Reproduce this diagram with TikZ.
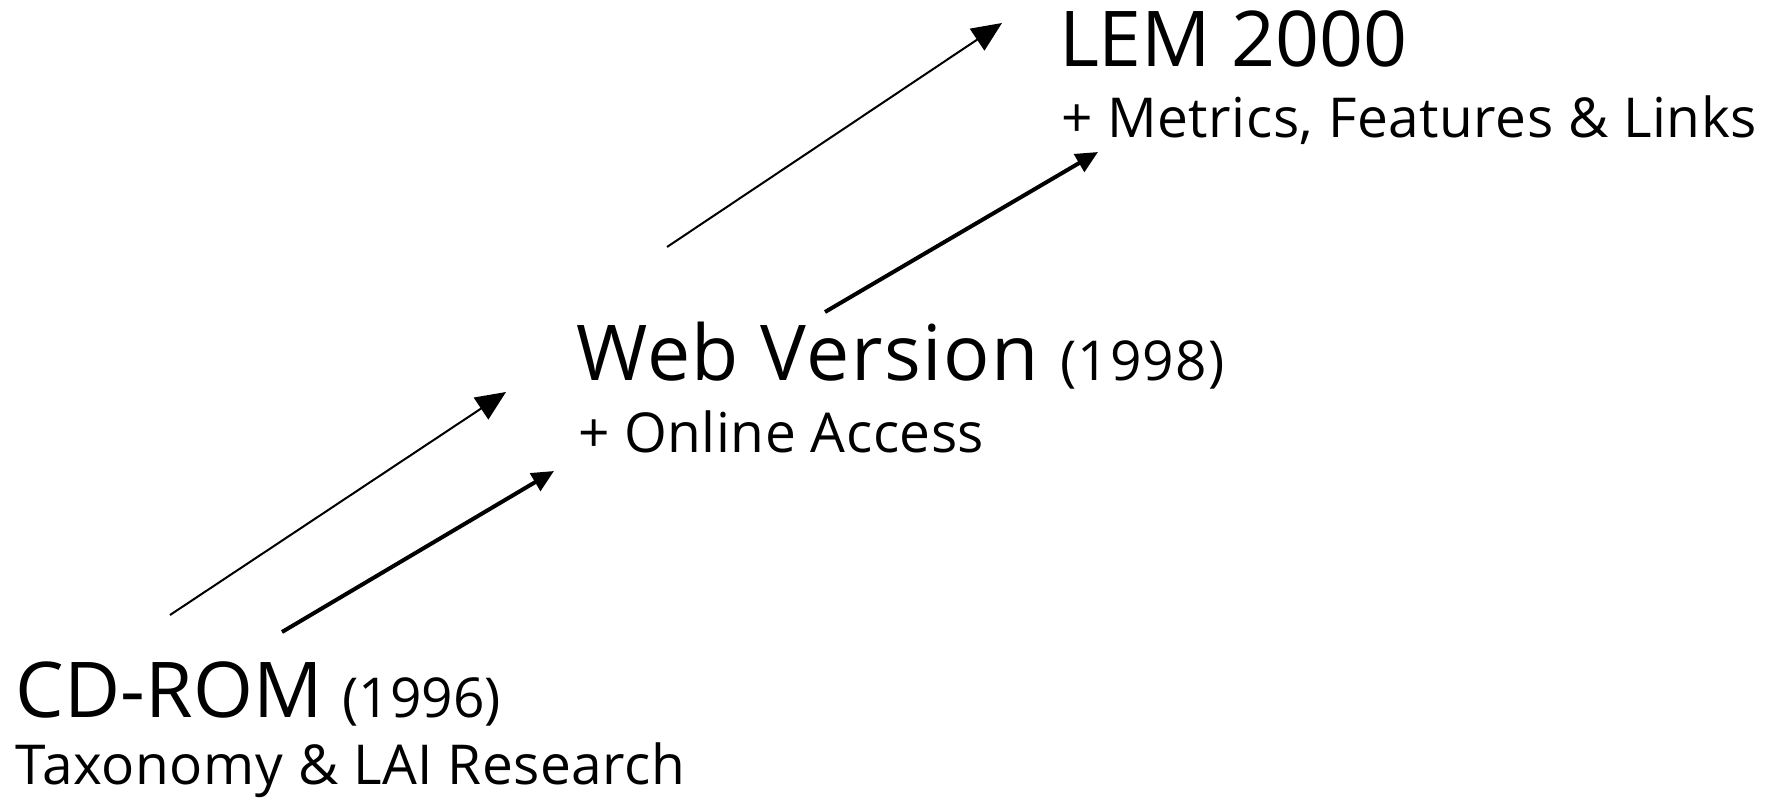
\documentclass[tikz,border=0pt]{standalone}
\usepackage{fontspec}
\setmainfont{Open Sans}
\usetikzlibrary{arrows.meta}
\newcommand\myyearfont{\fontsize{27.5}{30}\selectfont}
\begin{document}
\begin{tikzpicture}[x=0.5pt,y=-0.5pt,
  lbl/.style={anchor=base west, inner sep=0pt, outer sep=0pt},
  bigtext/.style={lbl, font=\fontsize{38.5}{40}\selectfont},
  widebig/.style={lbl, font=\fontsize{38.5}{40}\selectfont\addfontfeatures{LetterSpace=2}},
  subtext/.style={lbl, font=\fontsize{27.5}{30}\selectfont\addfontfeatures{LetterSpace=1}},
  thinarrow/.style={line width=1pt, -{Triangle[length=15pt,width=13pt]}},
  thickarrow/.style={line width=2pt, -{Triangle[length=11pt,width=10pt]}}]
\useasboundingbox (0,0) rectangle (1789,798);

\node[bigtext] (lem) at (1059,66) {LEM 2000};
\node[subtext] (lemsub) at (1061,137) {+ Metrics, Features \& Links};
\node[widebig] (web) at (576,380) {Web Version {\myyearfont (1998)}};
\node[subtext] (websub) at (578,452) {+ Online Access};
\node[bigtext] (cd) at (16,717) {CD-ROM {\myyearfont (1996)}};
\node[subtext] (cdsub) at (16,784) {Taxonomy \& LAI Research};

\coordinate (a1s) at (170,615);
\coordinate (a1e) at (506,392);
\coordinate (a2s) at (282,632);
\coordinate (a2e) at (554,471);
\coordinate (a3s) at (667,247);
\coordinate (a3e) at (1002,23);
\coordinate (a4s) at (825,312);
\coordinate (a4e) at (1098,152);

\draw[thinarrow] (a1s) -- (a1e);
\draw[thickarrow] (a2s) -- (a2e);
\draw[thinarrow] (a3s) -- (a3e);
\draw[thickarrow] (a4s) -- (a4e);
\end{tikzpicture}
\end{document}
